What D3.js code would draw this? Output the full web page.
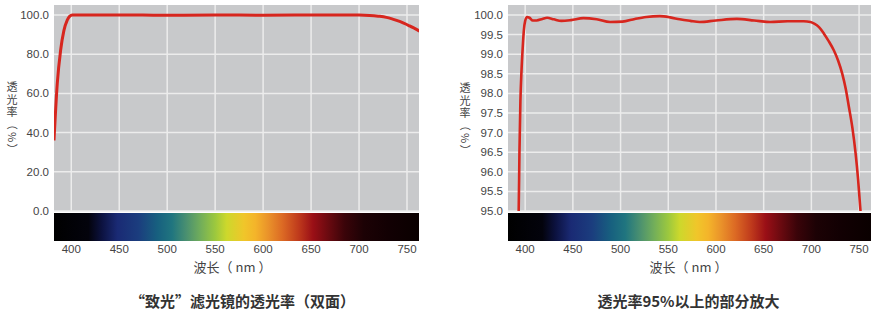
<!DOCTYPE html>
<html>
<head>
<meta charset="utf-8">
<script src="https://cdn.jsdelivr.net/npm/d3@7"></script>
<style>
  html, body { margin: 0; padding: 0; background: #fff; }
  svg { display: block; }
  text { font-family: "Liberation Sans", Arial, "Noto Sans CJK SC", sans-serif; }
  .cjk { font-family: "Noto Sans CJK SC", "Liberation Sans", sans-serif; }
</style>
</head>
<body>
<div id="chart"></div>
<script>
// wavelength ticks shared by both panels
const xTicks = [400, 450, 500, 550, 600, 650, 700, 750];

// left panel: full transmission curve
const leftWave  = [382, 385.4, 388.9, 392.3, 395.8, 398.5, 401, 450, 500, 550, 600, 650, 700, 711, 720, 728.5, 735, 742.3, 752.7, 763];
const leftValue = [36, 65, 82, 92, 97.4, 99.4, 100, 100, 99.9, 100, 99.9, 100, 100, 99.8, 99.4, 98.8, 97.9, 96.7, 94.4, 91.8];
const leftYTicks = [0, 20, 40, 60, 80, 100];

// right panel: zoom of the part above 95%
const rightWave  = [392, 393.2, 394, 395, 396.2, 397.5, 398.6, 400, 402, 404.5, 408, 412, 418, 423, 430, 438, 448, 461, 475, 489, 502, 515, 527, 541, 552, 562, 573, 583, 600, 622, 640, 657, 675, 692, 699, 703, 708, 713, 718, 723.5, 728, 732.4, 736, 739.3, 743, 746.3, 749, 751.5, 752.5];
const rightValue = [94.5, 95.0, 96.5, 97.8, 98.6, 99.2, 99.6, 99.85, 99.95, 99.93, 99.86, 99.86, 99.9, 99.93, 99.89, 99.85, 99.87, 99.92, 99.89, 99.82, 99.83, 99.9, 99.95, 99.97, 99.94, 99.89, 99.85, 99.82, 99.86, 99.9, 99.86, 99.82, 99.84, 99.84, 99.82, 99.78, 99.69, 99.53, 99.34, 99.1, 98.84, 98.5, 98.12, 97.66, 97.12, 96.48, 95.8, 95.0, 94.65];
const rightYTicks = [95, 95.5, 96, 96.5, 97, 97.5, 98, 98.5, 99, 99.5, 100];

// visible spectrum under the plots
const specWave  = [382, 418, 432, 448, 470, 490, 505, 520, 535, 550, 562, 580, 592, 605, 620, 637, 652, 668, 685, 705, 730, 762];
const specColor = ["#000000", "#03030c", "#0c1240", "#1a2a74", "#1b3d7e", "#17607f", "#20757f", "#4a9070", "#72ae5a", "#9cc83e", "#cdd82c", "#f0c62a", "#f4b42a", "#ea932a", "#dc6a24", "#bf3a1c", "#9a0f16", "#6a0a10", "#3a0409", "#1c0205", "#120003", "#0a0000"];

const xTitle = "波长（ nm ）";
// vertical y title: upright part, then the part that is turned sideways
const yTitleUpright = "透光率";
const yTitleSideways = "（%）";
const leftTitle = "“致光”滤光镜的透光率（双面）";
const rightTitle = "透光率95%以上的部分放大";

const svg = d3.select("#chart").append("svg")
    .attr("width", 880)
    .attr("height", 312);

const defs = svg.append("defs");

function drawPanel(cfg) {
    const x = d3.scaleLinear().domain([382, 762.5]).range([cfg.left, cfg.right]);
    const y = d3.scaleLinear().domain(cfg.yDomain).range([211, 5]);
    const g = svg.append("g");

    // grey plot area
    g.append("rect")
        .attr("x", cfg.left).attr("y", 5)
        .attr("width", cfg.right - cfg.left).attr("height", 206)
        .attr("fill", "#c8c9cb");

    // grid
    g.selectAll(".hgrid")
        .data(cfg.yTicks)
        .join("line")
            .attr("x1", cfg.left).attr("x2", cfg.right)
            .attr("y1", d => y(d)).attr("y2", d => y(d))
            .attr("stroke", "#ececec").attr("stroke-width", 1.5);
    g.selectAll(".vgrid")
        .data(xTicks)
        .join("line")
            .attr("x1", d => x(d)).attr("x2", d => x(d))
            .attr("y1", 5).attr("y2", 211)
            .attr("stroke", "#ececec").attr("stroke-width", 1.5);

    // y tick labels
    g.selectAll(".ylab")
        .data(cfg.yTicks)
        .join("text")
            .attr("x", cfg.left - 5)
            .attr("y", d => y(d) + 4)
            .attr("text-anchor", "end")
            .attr("font-size", 11.5)
            .attr("fill", "#444")
            .text(d => d3.format(".1f")(d));

    // spectrum bar
    const gid = "spec" + cfg.id;
    const grad = defs.append("linearGradient")
        .attr("id", gid)
        .attr("gradientUnits", "userSpaceOnUse")
        .attr("x1", cfg.left).attr("x2", cfg.right)
        .attr("y1", 0).attr("y2", 0);
    grad.selectAll("stop")
        .data(specWave)
        .join("stop")
            .attr("offset", d => (x(d) - cfg.left) / (cfg.right - cfg.left))
            .attr("stop-color", (d, i) => specColor[i]);
    g.append("rect")
        .attr("x", cfg.left).attr("y", 213)
        .attr("width", cfg.right - cfg.left).attr("height", 28)
        .attr("fill", `url(#${gid})`);

    // x tick labels
    g.selectAll(".xlab")
        .data(xTicks)
        .join("text")
            .attr("x", d => x(d))
            .attr("y", 253)
            .attr("text-anchor", "middle")
            .attr("font-size", 11.5)
            .attr("fill", "#444")
            .text(d => d);

    // curve, clipped to the plot
    const cid = "clip" + cfg.id;
    defs.append("clipPath").attr("id", cid)
        .append("rect")
            .attr("x", cfg.left).attr("y", 3)
            .attr("width", cfg.right - cfg.left).attr("height", 208);
    const pts = cfg.wave.map((w, i) => [w, cfg.value[i]]);
    g.append("path")
        .datum(pts)
        .attr("clip-path", `url(#${cid})`)
        .attr("fill", "none")
        .attr("stroke", "#d7261e")
        .attr("stroke-width", cfg.lineWidth)
        .attr("stroke-linejoin", "round")
        .attr("d", d3.line()
            .x(d => x(d[0]))
            .y(d => y(d[1]))
            .curve(d3.curveMonotoneX));

    // titles
    const mid = (cfg.left + cfg.right) / 2;
    g.append("text")
        .attr("class", "cjk")
        .attr("x", mid + cfg.xTitleShift).attr("y", 272)
        .attr("text-anchor", "middle")
        .attr("font-size", 13)
        .attr("fill", "#444")
        .text(xTitle);
    g.append("text")
        .attr("class", "cjk")
        .attr("x", mid + cfg.titleShift).attr("y", 307)
        .attr("text-anchor", "middle")
        .attr("font-size", 15)
        .attr("font-weight", "bold")
        .attr("fill", "#333")
        .text(cfg.title);

    // stacked y title as one text: glyphs placed one under another
    const fs = 11, step = 12.4;
    const yt = g.append("text")
        .attr("class", "cjk")
        .attr("font-size", fs)
        .attr("fill", "#444");
    const up = Array.from(yTitleUpright);
    yt.append("tspan")
        .attr("text-anchor", "middle")
        .attr("x", up.map(() => cfg.yTitleX).join(" "))
        .attr("y", up.map((c, i) => cfg.yTitleTop + i * step + 0.38 * fs).join(" "))
        .text(yTitleUpright);
    const side = Array.from(yTitleSideways);
    const adv = [fs, 0.85 * fs, fs];
    yt.append("tspan")
        .attr("text-anchor", "start")
        .attr("rotate", "90")
        .attr("x", side.map(() => cfg.yTitleX - 0.38 * fs).join(" "))
        .attr("y", side.map((c, i) => cfg.yTitleTop + (up.length + i) * step - adv[i] / 2).join(" "))
        .text(yTitleSideways);
}

drawPanel({
    id: "L", left: 54, right: 419,
    yDomain: [0, 105.1], yTicks: leftYTicks,
    wave: leftWave, value: leftValue, lineWidth: 3,
    title: leftTitle, titleShift: 6, xTitleShift: -4,
    yTitleX: 12, yTitleTop: 87
});

drawPanel({
    id: "R", left: 508, right: 871,
    yDomain: [95, 100.255], yTicks: rightYTicks,
    wave: rightWave, value: rightValue, lineWidth: 2.6,
    title: rightTitle, titleShift: -1, xTitleShift: -1,
    yTitleX: 465, yTitleTop: 88
});
</script>
</body>
</html>
